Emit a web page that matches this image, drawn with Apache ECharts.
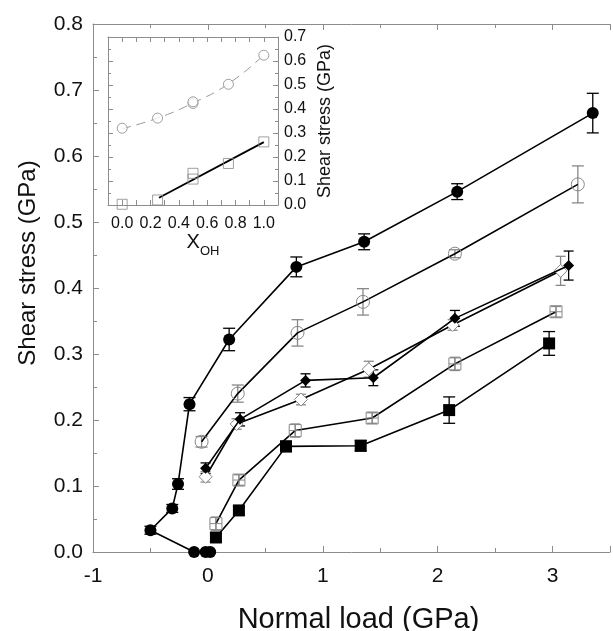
<!DOCTYPE html>
<html><head><meta charset="utf-8">
<script src="https://cdn.jsdelivr.net/npm/echarts@6/dist/echarts.min.js"></script>
<style>html,body{margin:0;padding:0;background:#fff}#c{width:613px;height:631px}</style>
</head><body><div id="c"></div>
<script>
// ---- main chart data (Normal load GPa, Shear stress GPa, error) ----
const fcX = [0.02, -0.02, -0.12, -0.50, -0.31, -0.26, -0.16, 0.185, 0.77, 1.36, 2.17, 3.35];
const fcY = [0.0, 0.0, 0.0, 0.033, 0.066, 0.103, 0.224, 0.322, 0.432, 0.470, 0.546, 0.665];
const fcE = [0, 0, 0, 0.006, 0.006, 0.008, 0.010, 0.017, 0.015, 0.012, 0.012, 0.030];

const ocX = [-0.055, 0.26, 0.78, 1.35, 2.15, 3.22];
const ocY = [0.167, 0.240, 0.332, 0.379, 0.452, 0.557];
const ocE = [0.008, 0.013, 0.020, 0.020, 0.006, 0.028];

const fdX = [-0.02, 0.28, 0.85, 1.44, 2.15, 3.14];
const fdY = [0.127, 0.201, 0.260, 0.264, 0.354, 0.434];
const fdE = [0.008, 0.010, 0.010, 0.012, 0.012, 0.022];

const odX = [-0.02, 0.25, 0.81, 1.40, 2.13, 3.07];
const odY = [0.114, 0.194, 0.231, 0.277, 0.344, 0.426];
const odE = [0.008, 0.008, 0.008, 0.012, 0.008, 0.022];

const osX = [0.07, 0.27, 0.76, 1.43, 2.15, 3.03];
const osY = [0.043, 0.109, 0.184, 0.203, 0.285, 0.364];
const osE = [0.010, 0.008, 0.010, 0.008, 0.010, 0.008];

const fsX = [0.07, 0.27, 0.68, 1.33, 2.10, 2.97];
const fsY = [0.022, 0.063, 0.160, 0.161, 0.215, 0.316];
const fsE = [0.006, 0.006, 0.008, 0.008, 0.020, 0.018];

// ---- inset data (X_OH, shear stress GPa) ----
const inCircX = [0.0, 0.25, 0.5, 0.5, 0.75, 1.0];
const inCircY = [0.320, 0.362, 0.423, 0.430, 0.503, 0.624];
const inSqX = [0.0, 0.25, 0.5, 0.5, 0.75, 1.0];
const inSqY = [0.003, 0.021, 0.108, 0.132, 0.173, 0.263];
const dashFitX = [0.0, 0.25, 0.5, 0.75, 1.0];
const dashFitY = [0.318, 0.362, 0.425, 0.505, 0.625];
const solidFitX = [0.26, 1.0];
const solidFitY = [0.030, 0.262];

const FONT = '"Liberation Sans", Arial, Helvetica, sans-serif';
const AX = '#8c8c8c';
const zip = (a, b) => a.map((v, i) => [v, b[i]]);
const zip3 = (a, b, c) => a.map((v, i) => [v, b[i], c[i]]);

function errSeries(x, y, e, color, capW) {
  return {
    type: 'custom', xAxisIndex: 0, yAxisIndex: 0, z: 3,
    data: zip3(x, y, e),
    encode: { x: 0, y: 1 },
    renderItem: function (params, api) {
      const xv = api.value(0), yv = api.value(1), ev = api.value(2);
      if (!ev) return null;
      const t = api.coord([xv, yv + ev]);
      const b = api.coord([xv, yv - ev]);
      const st = { stroke: color, lineWidth: 1.3 };
      return {
        type: 'group', children: [
          { type: 'line', shape: { x1: t[0], y1: t[1], x2: b[0], y2: b[1] }, style: st },
          { type: 'line', shape: { x1: t[0] - capW, y1: t[1], x2: t[0] + capW, y2: t[1] }, style: st },
          { type: 'line', shape: { x1: b[0] - capW, y1: b[1], x2: b[0] + capW, y2: b[1] }, style: st }
        ]
      };
    }
  };
}

function lineSeries(x, y, symbol, size, itemStyle, z) {
  return {
    type: 'line', xAxisIndex: 0, yAxisIndex: 0, data: zip(x, y),
    symbol: symbol, symbolSize: size, showAllSymbol: true, z: z || 4,
    lineStyle: { color: '#000', width: 1.6 },
    itemStyle: itemStyle, animation: false
  };
}

const option = {
  animation: false,
  backgroundColor: '#fff',
  textStyle: { fontFamily: FONT },
  grid: [
    { left: 93, top: 24, width: 517, height: 528, containLabel: false, outerBoundsMode: 'none' },
    { left: 108, top: 37, width: 170, height: 168, containLabel: false, outerBoundsMode: 'none' }
  ],
  xAxis: [
    { gridIndex: 0, type: 'value', min: -1, max: 3.5, interval: 1, position: 'bottom',
      name: 'Normal load (GPa)', nameLocation: 'middle', nameGap: 53,
      nameTextStyle: { fontSize: 29, color: '#111', fontFamily: FONT, padding: [0, 0, 0, 14] },
      axisLine: { onZero: false, lineStyle: { color: AX } },
      axisTick: { inside: true, length: 6, lineStyle: { color: AX } },
      minorTick: { show: true, splitNumber: 2, length: 4, lineStyle: { color: AX } },
      splitLine: { show: false },
      axisLabel: { fontSize: 21, color: '#111', margin: 14, fontFamily: FONT,
        formatter: v => (Math.abs(v - Math.round(v)) < 1e-6 ? String(Math.round(v)) : '') } },
    { gridIndex: 0, type: 'value', min: -1, max: 3.5, interval: 1, position: 'top',
      axisLine: { onZero: false, lineStyle: { color: AX } },
      axisTick: { inside: true, length: 6, lineStyle: { color: AX } },
      minorTick: { show: true, splitNumber: 2, length: 4, lineStyle: { color: AX } },
      splitLine: { show: false }, axisLabel: { show: false } },
    { gridIndex: 1, type: 'value', min: -0.1, max: 1.1, interval: 0.1, position: 'bottom',
      name: '{a|X}{b|OH}', nameLocation: 'middle', nameGap: 27,
      nameTextStyle: { padding: [0, 0, 0, 20], rich: {
        a: { fontSize: 20, color: '#111', fontFamily: FONT, verticalAlign: 'top' },
        b: { fontSize: 13, color: '#111', fontFamily: FONT, padding: [12, 0, 0, 0], verticalAlign: 'top' } } },
      axisLine: { onZero: false, lineStyle: { color: AX } },
      axisTick: { inside: true, length: 5, lineStyle: { color: AX } },
      splitLine: { show: false },
      axisLabel: { fontSize: 16, color: '#111', margin: 11, fontFamily: FONT,
        formatter: v => { const k = Math.round(v * 10); return (k >= 0 && k <= 10 && k % 2 === 0) ? (k / 10).toFixed(1) : ''; } } },
    { gridIndex: 1, type: 'value', min: -0.1, max: 1.1, interval: 0.1, position: 'top',
      axisLine: { onZero: false, lineStyle: { color: AX } },
      axisTick: { inside: true, length: 5, lineStyle: { color: AX } },
      splitLine: { show: false }, axisLabel: { show: false } }
  ],
  yAxis: [
    { gridIndex: 0, type: 'value', min: 0, max: 0.8, interval: 0.1, position: 'left',
      name: 'Shear stress (GPa)', nameLocation: 'middle', nameGap: 53, nameRotate: 90,
      nameTextStyle: { fontSize: 24, color: '#111', fontFamily: FONT, padding: [0, 0, 0, 50] },
      axisLine: { onZero: false, lineStyle: { color: AX } },
      axisTick: { inside: true, length: 6, lineStyle: { color: AX } },
      minorTick: { show: true, splitNumber: 2, length: 4, lineStyle: { color: AX } },
      splitLine: { show: false },
      axisLabel: { fontSize: 21, color: '#111', margin: 10, fontFamily: FONT, formatter: v => v.toFixed(1) } },
    { gridIndex: 1, type: 'value', min: 0, max: 0.7, interval: 0.1, position: 'left',
      axisLine: { onZero: false, lineStyle: { color: AX } },
      axisTick: { inside: true, length: 5, lineStyle: { color: AX } },
      minorTick: { show: true, splitNumber: 2, length: 3, lineStyle: { color: AX } },
      splitLine: { show: false }, axisLabel: { show: false } },
    { gridIndex: 1, type: 'value', min: 0, max: 0.7, interval: 0.1, position: 'right',
      name: 'Shear stress (GPa)', nameLocation: 'middle', nameGap: 38, nameRotate: 90,
      nameTextStyle: { fontSize: 18, color: '#111', fontFamily: FONT },
      axisLine: { onZero: false, lineStyle: { color: AX } },
      axisTick: { inside: true, length: 5, lineStyle: { color: AX } },
      minorTick: { show: true, splitNumber: 2, length: 3, lineStyle: { color: AX } },
      splitLine: { show: false },
      axisLabel: { fontSize: 16, color: '#111', margin: 6, fontFamily: FONT, formatter: v => v.toFixed(1) } }
  ],
  series: [
    errSeries(fcX, fcY, fcE, '#000', 6),
    errSeries(ocX, ocY, ocE, '#888', 6),
    errSeries(fdX, fdY, fdE, '#000', 5),
    errSeries(odX, odY, odE, '#888', 5),
    errSeries(osX, osY, osE, '#888', 5),
    errSeries(fsX, fsY, fsE, '#000', 6),
    lineSeries(fcX, fcY, 'circle', 12, { color: '#000' }),
    lineSeries(ocX, ocY, 'circle', 13, { color: 'rgba(255,255,255,0)', borderColor: '#888', borderWidth: 1 }),
    lineSeries(odX, odY, 'diamond', 13, { color: '#fff', borderColor: '#888', borderWidth: 1 }),
    lineSeries(fdX, fdY, 'diamond', 11, { color: '#000' }, 5),
    lineSeries(osX, osY, 'path://M0,0L10,0L10,10L0,10Z M5,0L5,10 M0,5L10,5', 12,
      { color: 'rgba(255,255,255,0)', borderColor: '#888', borderWidth: 1 }),
    lineSeries(fsX, fsY, 'rect', 12, { color: '#000' }),
    // inset
    { type: 'line', xAxisIndex: 2, yAxisIndex: 1, data: zip(dashFitX, dashFitY), smooth: true,
      symbol: 'none', lineStyle: { color: '#999', width: 1, type: [9, 6] }, z: 2 },
    { type: 'line', xAxisIndex: 2, yAxisIndex: 1, data: zip(solidFitX, solidFitY),
      symbol: 'none', lineStyle: { color: '#000', width: 1.8 }, z: 2 },
    { type: 'scatter', xAxisIndex: 2, yAxisIndex: 1, data: zip(inCircX, inCircY),
      symbol: 'circle', symbolSize: 10, z: 3,
      itemStyle: { color: '#fff', borderColor: '#888', borderWidth: 1 } },
    { type: 'scatter', xAxisIndex: 2, yAxisIndex: 1, data: zip(inSqX, inSqY),
      symbol: 'rect', symbolSize: 10, z: 3,
      itemStyle: { color: 'rgba(255,255,255,0)', borderColor: '#888', borderWidth: 1 } }
  ]
};

const chart = echarts.init(document.getElementById('c'), null, { renderer: 'canvas' });
chart.setOption(option);
</script>
</body></html>
